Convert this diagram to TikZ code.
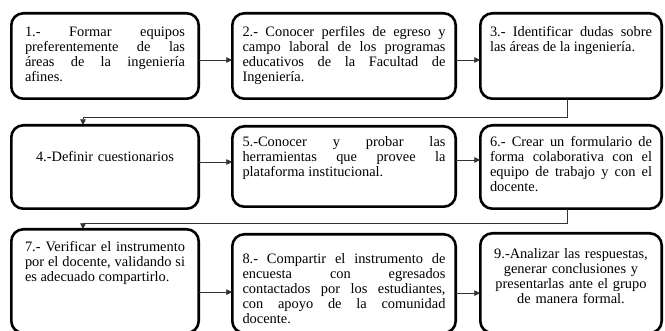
\documentclass[tikz,border=0pt]{standalone}
\usepackage{fontspec}
\setmainfont{Liberation Serif}
\usetikzlibrary{arrows.meta}
\tolerance=10000
\hyphenpenalty=10000

\begin{document}
\begin{tikzpicture}[x=1pt,y=-1pt,
  paso/.style={draw,line width=2.6pt,rounded corners=12pt,anchor=north west,
    inner ysep=0pt,outer sep=0pt,align=justify,
    font=\fontsize{14.4}{15}\selectfont},
  izq/.style={text width=160pt,inner xsep=13.7pt},
  medio/.style={text width=203pt,inner xsep=10.2pt},
  der/.style={text width=162pt,inner xsep=9.7pt},
  flecha/.style={draw=black!80,line width=0.8pt,-{Triangle[length=6pt,width=5.5pt]}}]
 \useasboundingbox (0,0) rectangle (665,331);
 % fila 1
 \node[paso,izq,text height=23pt,text depth=62.4pt] (p1) at (11.3,13.3)
  {1.- Formar equipos\linebreak preferentemente de las\linebreak áreas de la ingeniería\linebreak afines.};
 \node[paso,medio,text height=23pt,text depth=62.4pt] (p2) at (232.3,13.3)
  {2.- Conocer perfiles de egreso y\linebreak campo laboral de los programas\linebreak educativos de la Facultad de\linebreak Ingeniería.};
 \node[paso,der,text height=23pt,text depth=62.4pt] (p3) at (480.3,13.3)
  {3.- Identificar dudas sobre\linebreak las áreas de la ingeniería.};
 % fila 2
 \node[paso,izq,align=center,text height=36.2pt,text depth=47.2pt] (p4) at (11.3,125.3)
  {4.-Definir cuestionarios};
 \node[paso,medio,text height=20.2pt,text depth=60.2pt] (p5) at (232.3,126.3)
  {5.-Conocer y probar las\linebreak herramientas que provee la\linebreak plataforma institucional.};
 \node[paso,der,text height=21.2pt,text depth=62.2pt] (p6) at (480.3,125.3)
  {6.- Crear un formulario de\linebreak forma colaborativa con el\linebreak equipo de trabajo y con el\linebreak docente.};
 % fila 3
 \node[paso,izq,text height=22.2pt,text depth=81.5pt] (p7) at (11.3,229.3)
  {7.- Verificar el instrumento\linebreak por el docente, validando si\linebreak es adecuado compartirlo.};
 \node[paso,medio,text height=29.2pt,text depth=69.5pt] (p8) at (232.3,234.3)
  {8.- Compartir el instrumento de\linebreak encuesta con egresados\linebreak contactados por los estudiantes,\linebreak con apoyo de la comunidad\linebreak docente.};
 \node[paso,der,align=center,text height=25.2pt,text depth=74.5pt] (p9) at (480.3,233.3)
  {9.-Analizar las respuestas,\\ generar conclusiones y\\ presentarlas ante el grupo\\ de manera formal.};
 % flechas
 \draw[flecha] ([yshift=-4pt]p1.east) -- ([yshift=-4pt]p1.east -| p2.west);
 \draw[flecha] ([yshift=-4pt]p2.east) -- ([yshift=-4pt]p2.east -| p3.west);
 \draw[flecha] ([xshift=-4pt]p3.south) -- ++(0,18.3) -| ([xshift=-22pt]p4.north);
 \draw[flecha] ([yshift=5pt]p4.east) -- ([yshift=5pt]p4.east -| p5.west);
 \draw[flecha] ([yshift=6.5pt]p5.east) -- ([yshift=6.5pt]p5.east -| p6.west);
 \draw[flecha] ([xshift=-4pt]p6.south) -- ++(0,14.3) -| ([xshift=-22pt]p7.north);
 \draw[flecha] ([yshift=-11pt]p7.east) -- ([yshift=-11pt]p7.east -| p8.west);
 \draw[flecha] ([yshift=-9.5pt]p8.east) -- ([yshift=-9.5pt]p8.east -| p9.west);
\end{tikzpicture}
\end{document}
